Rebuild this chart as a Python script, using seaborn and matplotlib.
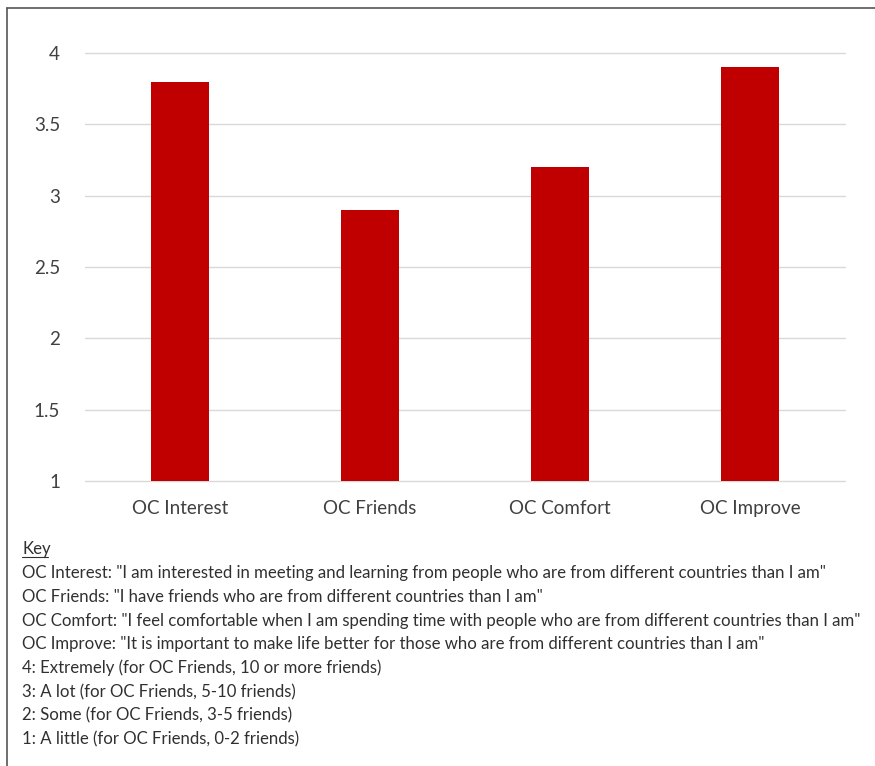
import matplotlib
matplotlib.use("Agg")
import matplotlib.pyplot as plt
import seaborn as sns
import pandas as pd
from matplotlib.lines import Line2D

categories = ["OC Interest", "OC Friends", "OC Comfort", "OC Improve"]
means = [3.8, 2.9, 3.2, 3.9]
y_ticks = [1, 1.5, 2, 2.5, 3, 3.5, 4]
y_tick_labels = ["1", "1.5", "2", "2.5", "3", "3.5", "4"]

key_title = "Key"
key_lines = [
    'OC Interest: "I am interested in meeting and learning from people who are from different countries than I am"',
    'OC Friends: "I have friends who are from different countries than I am"',
    'OC Comfort: "I feel comfortable when I am spending time with people who are from different countries than I am"',
    'OC Improve: "It is important to make life better for those who are from different countries than I am"',
    "4: Extremely (for OC Friends, 10 or more friends)",
    "3: A lot (for OC Friends, 5-10 friends)",
    "2: Some (for OC Friends, 3-5 friends)",
    "1: A little (for OC Friends, 0-2 friends)",
]

sns.set_theme(style="white")
plt.rcParams["font.family"] = ["Lato", "DejaVu Sans"]

W, H = 875, 766
fig = plt.figure(figsize=(W / 100, H / 100), dpi=100)
fig.patch.set_facecolor("white")

# Plot area in pixel coordinates
px_left, px_right, px_top, px_bottom = 85, 845, 53, 481
ax = fig.add_axes([px_left / W, 1 - px_bottom / H,
                   (px_right - px_left) / W, (px_bottom - px_top) / H])

df = pd.DataFrame({"category": categories, "mean": means})
sns.barplot(data=df, x="category", y="mean", color="#C00000", saturation=1,
            width=0.31, ax=ax, zorder=3, edgecolor="none")
# bars grow from the axis floor at 1
for patch in ax.patches:
    y0 = 1.0
    h = patch.get_y() + patch.get_height() - y0
    patch.set_y(y0)
    patch.set_height(h)

ax.set_ylim(1, 4)
ax.set_yticks(y_ticks)
ax.set_yticklabels(y_tick_labels)
ax.set_xlabel("")
ax.set_ylabel("")
for s in ax.spines.values():
    s.set_visible(False)
ax.grid(axis="y", color="#D9D9D9", linewidth=1.0, zorder=0)
ax.grid(axis="x", visible=False)
for gl in ax.get_ygridlines():
    gl.set_clip_on(False)
ax.tick_params(axis="y", length=0, pad=18, labelsize=13.5, labelcolor="#404040")
ax.tick_params(axis="x", length=0, pad=14, labelsize=13.5, labelcolor="#404040")

# Key below the chart
x0 = 22
fs = 12.1
fig.text(x0 / W, 1 - 549 / H, key_title, fontsize=fs, color="#303030",
         va="center", ha="left")
fig.add_artist(Line2D([x0 / W, 48 / W], [1 - 557 / H, 1 - 557 / H],
                      color="#303030", linewidth=0.8))
for i, line in enumerate(key_lines):
    y = 573 + i * 23.8
    fig.text(x0 / W, 1 - y / H, line, fontsize=fs, color="#303030",
             va="center", ha="left")

# Outer frame (left and top edges)
fig.add_artist(Line2D([7 / W, 7 / W], [0, 1 - 8 / H], color="#555555", linewidth=1.2))
fig.add_artist(Line2D([7 / W, 1], [1 - 8 / H, 1 - 8 / H], color="#555555", linewidth=1.2))

fig.savefig("out.png", dpi=100, facecolor="white")
